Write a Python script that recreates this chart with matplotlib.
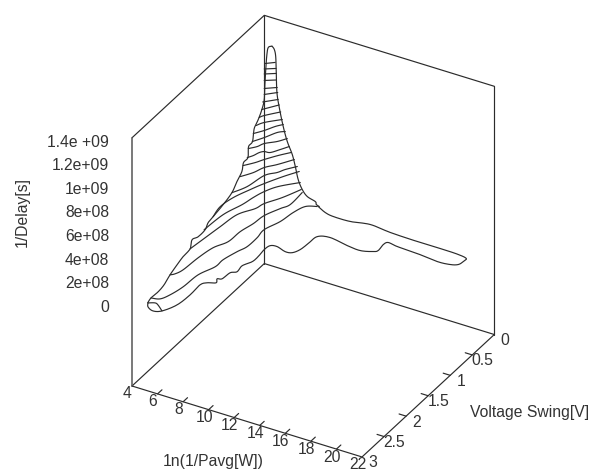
import matplotlib
matplotlib.use('Agg')
import matplotlib.pyplot as plt
import numpy as np
from mpl_toolkits.mplot3d import proj3d

plt.rcParams['font.family'] = ['Liberation Sans', 'DejaVu Sans']

# contour levels of 1/Delay, in units of 1e6
levels = [60 * k for k in range(23)]

contour_x = [
    [4.62,5.03,5.33,5.95],
    [4.93,5.52,5.85,6.11,6.23,6.72,6.74,7.05,7.32,7.34,7.24,7.67,7.86,8.19,8.89],
    [5.03,5.26,5.48,5.60,5.84,6.34,6.41,6.67,6.80,7.30,7.63,7.57],
    [5.01,5.19,5.37,5.60,6.28,6.49,7.17,7.77],
    [5.07,5.23,5.71,5.91,6.18,6.68,7.72],
    [5.22,5.00,5.19,5.68,6.12,6.79,7.41],
    [5.26,5.76,6.06,6.63,6.91,7.43],
    [5.17,5.68,6.00,6.58,7.26],
    [5.09,5.61,5.94,6.51,7.08],
    [5.27,5.50,5.66,5.89,6.30,6.70,7.04],
    [5.21,5.61,5.83,6.46,6.86],
    [5.45,5.90,6.34,6.75],
    [5.45,5.90,6.29,6.64],
    [5.56,5.84,6.71],
    [5.68,5.85,6.59],
    [5.77,6.51],
    [5.80,6.55],
    [5.86,6.53],
    [5.93,6.63],
    [5.87,6.55],
    [5.91,6.58],
    [6.04,6.70],
    [6.20,6.72],
]
contour_y = [
    [2.817,2.777,2.797,2.885],
    [2.838,2.805,2.675,2.453,2.147,1.902,1.728,1.501,1.352,1.129,0.942,0.703,0.463,0.284,0.216],
    [2.436,2.390,2.270,1.964,1.694,1.498,1.246,1.024,0.814,0.594,0.463,0.174],
    [1.974,1.686,1.398,1.080,0.867,0.723,0.510,0.255],
    [1.675,1.290,0.997,0.806,0.633,0.461,0.262],
    [1.514,1.290,1.050,0.806,0.616,0.379,0.195],
    [1.094,0.898,0.599,0.469,0.369,0.245],
    [0.884,0.737,0.582,0.452,0.264],
    [0.795,0.671,0.565,0.411,0.282],
    [0.755,0.684,0.595,0.548,0.532,0.420,0.313],
    [0.714,0.626,0.531,0.420,0.308],
    [0.693,0.551,0.385,0.321],
    [0.670,0.552,0.416,0.334],
    [0.636,0.535,0.378],
    [0.602,0.537,0.378],
    [0.571,0.388],
    [0.557,0.423],
    [0.541,0.428],
    [0.561,0.469],
    [0.544,0.467],
    [0.555,0.477],
    [0.593,0.517],
    [0.617,0.541],
]
# closed curve at 1/Delay = 0
base_x = [4.62,4.88,5.42,5.95,6.45,6.58,6.53,6.81,7.34,7.15,7.44,7.53,7.87,7.79,8.12,8.15,8.06,8.16,8.63,9.42,9.90,10.17,10.26,10.35,11.17,12.68,13.76,14.58,14.81,14.73,14.89,15.67,17.29,18.97,19.93,20.40,20.50,20.48,19.76,18.56,16.53,14.38,12.69,11.33,10.02,9.29,8.50]
base_y = [2.817,2.891,2.936,2.885,2.689,2.430,2.189,2.112,2.061,1.982,1.953,1.797,1.739,1.600,1.469,1.343,1.180,1.072,1.050,1.097,1.076,0.975,0.819,0.639,0.583,0.634,0.652,0.596,0.549,0.410,0.345,0.368,0.383,0.417,0.398,0.352,0.269,0.196,0.168,0.161,0.162,0.149,0.116,0.174,0.179,0.151,0.080]
# ridge outlines
left_x = [6.10,5.92,6.04,6.19,5.93,5.88,5.78,5.64,5.47,5.46,5.23,5.31,5.09,5.15,5.15,5.25,5.27,5.22,5.10,5.13,5.00,4.76,5.01,4.96,4.98,5.03,5.12,5.08,4.93,4.60]
left_y = [0.434,0.466,0.532,0.597,0.544,0.546,0.570,0.612,0.654,0.691,0.713,0.751,0.787,0.842,0.954,1.096,1.301,1.514,1.593,1.669,1.790,1.858,1.974,2.121,2.263,2.436,2.598,2.722,2.838,2.818]
left_z = [1400,1394,1362,1287,1125,980,900,825,758,660,617,540,502,447,401,360,330,300,272,240,218,208,180,162,143,120,94,76,60,0]
right_x = [6.10,6.32,6.59,6.61,6.48,6.51,6.63,6.88,7.14,7.31,7.53,7.83,7.99,8.62,8.77,9.01]
right_y = [0.434,0.446,0.492,0.485,0.432,0.388,0.333,0.314,0.276,0.256,0.254,0.249,0.182,0.182,0.203,0.205]
right_z = [1400,1384,1349,1212,1020,879,703,578,463,360,256,180,103,81,69,60]

x_ticks = [4,6,8,10,12,14,16,18,20,22]
y_ticks = [0,0.5,1,1.5,2,2.5,3]
y_tick_labels = ['0','0.5','1','1.5','2','2.5','3']
z_ticks = [0,200,400,600,800,1000,1200,1400]
z_tick_labels = ['0','2e+08','4e+08','6e+08','8e+08','1e+09','1.2e+09','1.4e +09']

XMIN, XMAX, YMIN, YMAX = 4, 22, 0, 3
ZMIN, ZMAX = -661, 1441
INK = '#2b2b2b'
TXT = '#333333'
FS = 11.3
LW = 0.85

W, H = 599, 471
fig = plt.figure(figsize=(W/100, H/100), dpi=100)
ax = fig.add_axes([0, 0, 1, 1], projection='3d')
ax.set_proj_type('ortho')
ax.view_init(elev=32.3, azim=-60)
ax.set_box_aspect((265, 264, 293))
ax.set_xlim(XMIN, XMAX)
ax.set_ylim(YMAX, YMIN)
ax.set_zlim(ZMIN, ZMAX)
ax.set_axis_off()
ax.patch.set_alpha(0)

def line(xs, ys, zs, color=INK, lw=LW):
    ax.plot(xs, ys, zs, color=color, lw=lw, clip_on=False, solid_capstyle='round', solid_joinstyle='round')

def smooth(*cols, n=8):
    # draw the read points as a smooth curve (Catmull-Rom through each point)
    P = np.column_stack(cols).astype(float)
    if len(P) < 3:
        return P.T
    Q = np.vstack([P[0], P, P[-1]])
    t = np.linspace(0, 1, n, endpoint=False)[:, None]
    out = []
    for i in range(1, len(Q)-2):
        a, b, c, d = Q[i-1], Q[i], Q[i+1], Q[i+2]
        out.append(0.5*(2*b + (c-a)*t + (2*a-5*b+4*c-d)*t**2 + (3*b-a-3*c+d)*t**3))
    out.append(P[-1:])
    return np.vstack(out).T

# box
line([XMIN,XMAX,XMAX,XMIN,XMIN],[YMAX,YMAX,YMIN,YMIN,YMAX],[ZMIN]*5)
line([XMIN,XMIN,XMAX,XMAX],[YMAX,YMIN,YMIN,YMIN],[ZMAX]*4)
line([XMIN,XMIN],[YMAX,YMAX],[ZMIN,ZMAX],color='#555555',lw=1.1)
line([XMIN,XMIN],[YMIN,YMIN],[ZMIN,ZMAX])
line([XMAX,XMAX],[YMIN,YMIN],[ZMIN,ZMAX])

# tick marks
for t in x_ticks:
    if XMIN < t < XMAX:
        line([t,t],[YMAX,YMAX-0.1],[ZMIN,ZMIN])
for t in y_ticks:
    if YMIN < t < YMAX:
        line([XMAX,XMAX-0.55],[t,t],[ZMIN,ZMIN])

# curves
for lev, xs, ys in zip(levels, contour_x, contour_y):
    line(*smooth(xs, ys, [lev]*len(xs)))
line(*smooth(base_x, base_y, [0]*len(base_x)))
line(*smooth(left_x, left_y, left_z))
line(*smooth(right_x, right_y, right_z))

# place the axes so the box corner and span land where the reference has them
def screen(x, y, z):
    fig.canvas.draw()
    M = ax.get_proj()
    a, b, _ = proj3d.proj_transform(x, y, z, M)
    p = ax.transData.transform((a, b))
    return np.array([p[0], H-p[1]])

size = 471.0
ax.set_position([0, 0, size/W, size/H])
for _ in range(2):
    span = np.linalg.norm(screen(XMAX,YMAX,ZMIN)-screen(XMIN,YMAX,ZMIN))
    size *= np.hypot(230, 71)/span
    ax.set_position([0, 0, size/W, size/H])
p = screen(XMIN,YMAX,ZMIN)
ax.set_position([(132-p[0])/W, -(386-p[1])/H, size/W, size/H])

def label(px, py, s, **kw):
    fig.text(px/W, 1-py/H, s, fontsize=FS, color=TXT, va='center', **kw)

for t in x_ticks:
    p = screen(t, YMAX, ZMIN)
    label(p[0]-4.5, p[1]+8, str(t), ha='center')
for t, s in zip(y_ticks, y_tick_labels):
    p = screen(XMAX, t, ZMIN)
    label(p[0]+10.5, p[1]+6, s, ha='center')
for t, s in zip(z_ticks, z_tick_labels):
    p = screen(XMIN, YMAX, t)
    label(p[0]-23, p[1]-0.5, s, ha='right')

label(213, 461.5, '1n(1/Pavg[W])', ha='center')
label(530, 413, 'Voltage Swing[V]', ha='center')
label(22, 212, '1/Delay[s]', ha='center', rotation=90)

fig.savefig('out.png', dpi=100, facecolor='white')
